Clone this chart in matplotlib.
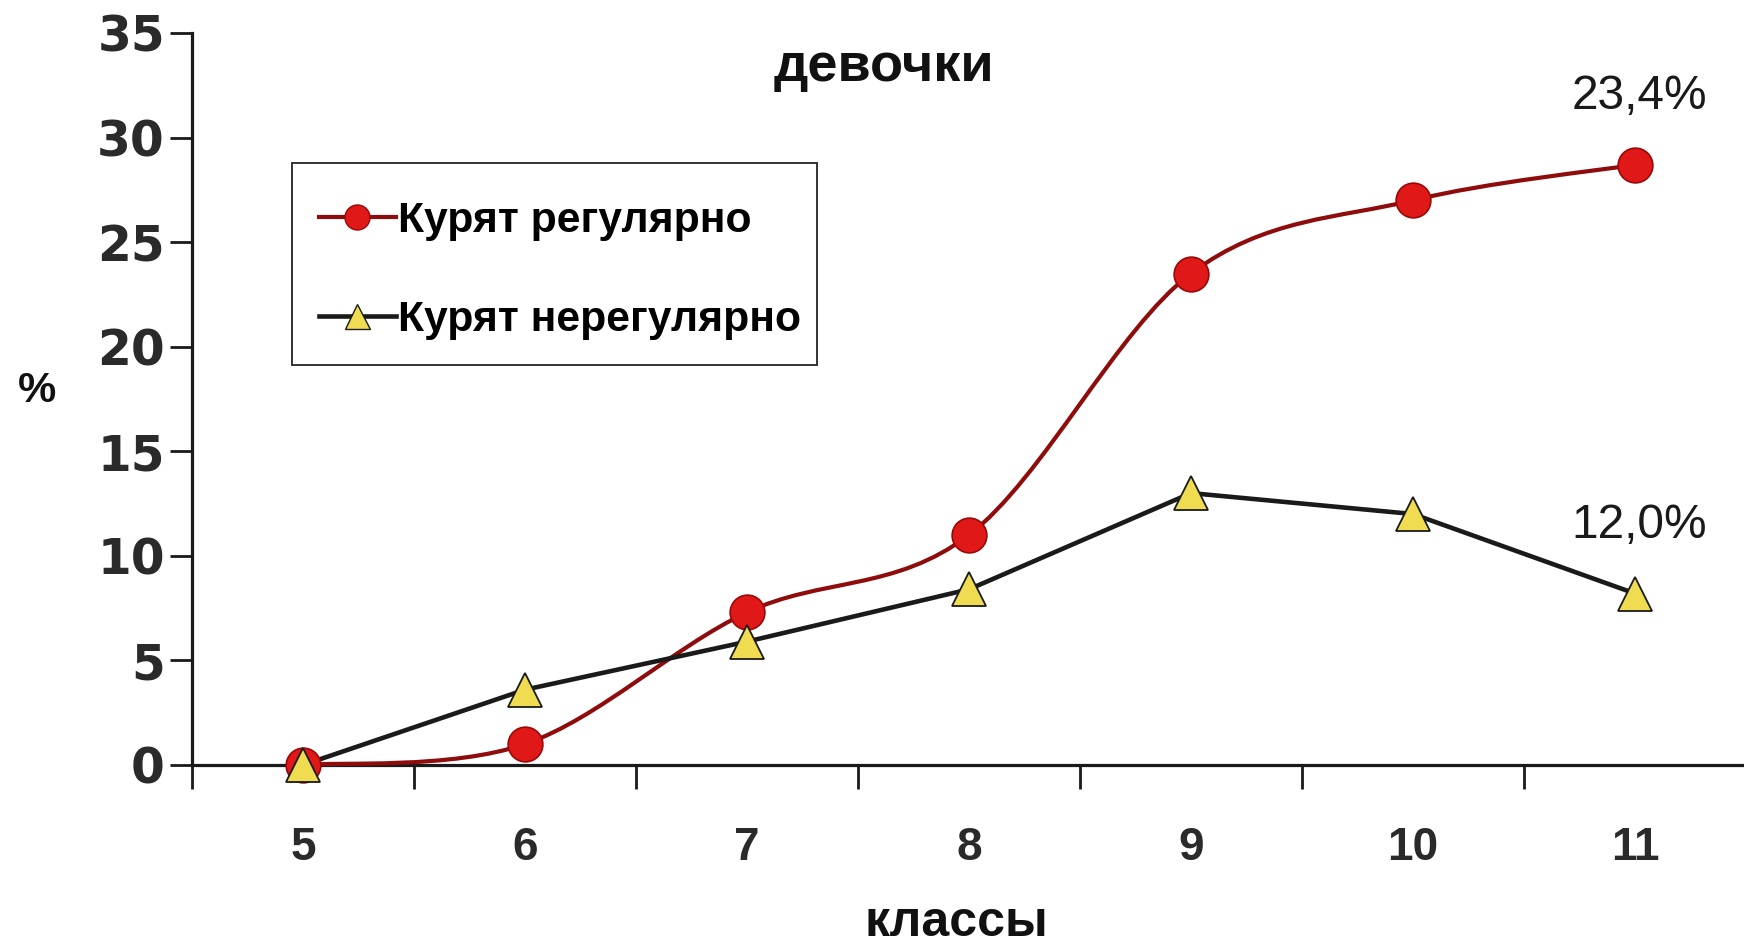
import matplotlib
matplotlib.use("Agg")
import matplotlib.pyplot as plt
from matplotlib.path import Path
from matplotlib.patches import PathPatch, Rectangle
from matplotlib.lines import Line2D
import numpy as np

# ---- data ----
classes = [5, 6, 7, 8, 9, 10, 11]
regular = [0.0, 1.0, 7.3, 11.0, 23.5, 27.0, 28.7]
irregular = [0.0, 3.6, 5.9, 8.4, 13.0, 12.0, 8.2]
series_names = ["Курят регулярно", "Курят нерегулярно"]
y_ticks = [0, 5, 10, 15, 20, 25, 30, 35]
title_text = "девочки"
x_label = "классы"
y_label = "%"
annotations = [("23,4%", 11, 31.95), ("12,0%", 11, 11.45)]

W, H, DPI = 1744, 943, 100
fig = plt.figure(figsize=(W / DPI, H / DPI), dpi=DPI)
fig.patch.set_facecolor("white")

ax_left, ax_right = 192 / W, 1746 / W
ax_bottom, ax_top = 1 - 765 / H, 1 - 33 / H
ax = fig.add_axes([ax_left, ax_bottom, ax_right - ax_left, ax_top - ax_bottom])
ax.set_xlim(4.5, 11.5)
ax.set_ylim(0, 35)

RED_LINE = "#8e0c0c"
RED_FILL = "#e01818"
RED_EDGE = "#9a0808"
YEL_FILL = "#f0dc50"
DARK = "#1a1a1a"

# smoothed line (Bezier / Catmull-Rom like Excel's "smoothed line")
pts = np.column_stack([classes, regular]).astype(float)
ext = np.vstack([pts[0], pts, pts[-1]])
verts = [tuple(pts[0])]
codes = [Path.MOVETO]
for i in range(len(pts) - 1):
    p0, p1, p2, p3 = ext[i], ext[i + 1], ext[i + 2], ext[i + 3]
    c1 = p1 + (p2 - p0) / 6.0
    c2 = p2 - (p3 - p1) / 6.0
    verts += [tuple(c1), tuple(c2), tuple(p2)]
    codes += [Path.CURVE4] * 3
ax.add_patch(PathPatch(Path(verts, codes), facecolor="none", edgecolor=RED_LINE,
                       lw=3.0, zorder=3, clip_on=False))

ax.plot(classes, irregular, color=DARK, lw=3.3, zorder=3, clip_on=False)

ax.plot(classes, regular, linestyle="none", marker="o", ms=25, mfc=RED_FILL,
        mec=RED_EDGE, mew=1.2, zorder=5, clip_on=False)
ax.plot(classes, irregular, linestyle="none", marker="^", ms=25, mfc=YEL_FILL,
        mec=DARK, mew=1.3, zorder=6, clip_on=False)

# axes styling
for s in ["top", "right"]:
    ax.spines[s].set_visible(False)
for s in ["left", "bottom"]:
    ax.spines[s].set_color(DARK)
    ax.spines[s].set_linewidth(2.3)

ax.set_yticks(y_ticks)
ax.set_yticklabels([str(v) for v in y_ticks], fontfamily="DejaVu Sans",
                   fontweight="bold", fontsize=35, color="#2a2a2a")
ax.tick_params(axis="y", direction="out", length=16, width=2.0, color=DARK, pad=3.5)

ax.set_xticks(classes)
ax.set_xticklabels([str(c) for c in classes], fontfamily="Liberation Sans",
                   fontweight="bold", fontsize=33, color="#2a2a2a")
ax.set_xticks(np.arange(4.5, 11.6, 1.0), minor=True)
ax.tick_params(axis="x", which="major", length=0, pad=44)
ax.tick_params(axis="x", which="minor", direction="out", length=17, width=2.0, color=DARK)

# texts
fig.text(884 / W, 1 - 67 / H, title_text, ha="center", va="center",
         fontfamily="Liberation Sans", fontweight="bold", fontsize=39, color="#111111")
fig.text(956 / W, 1 - 923 / H, x_label, ha="center", va="center",
         fontfamily="Liberation Sans", fontweight="bold", fontsize=36, color="#111111")
fig.text(37 / W, 1 - 391 / H, y_label, ha="center", va="center",
         fontfamily="Liberation Sans", fontweight="bold", fontsize=31, color="#111111")
for txt, xv, yv in annotations:
    ax.text(xv + 0.02, yv, txt, ha="center", va="center", fontfamily="Liberation Sans",
            fontsize=34.5, color="#1a1a1a")

# legend (frame drawn separately)
handles = [
    Line2D([], [], color=RED_LINE, lw=3.0, marker="o", ms=18, mfc=RED_FILL, mec=RED_EDGE),
    Line2D([], [], color=DARK, lw=3.3, marker="^", ms=18, mfc=YEL_FILL, mec=DARK),
]
leg = fig.legend(handles, series_names, loc="upper left",
                 bbox_to_anchor=(319 / W, 1 - 201 / H), bbox_transform=fig.transFigure,
                 frameon=False, borderaxespad=0, borderpad=0,
                 handlelength=1.8, handletextpad=0.05, labelspacing=1.38,
                 prop={"family": "Liberation Sans", "weight": "bold", "size": 30.7})
box_x0, box_y0, box_x1, box_y1 = 292, 163, 817, 365
fig.patches.append(Rectangle((box_x0 / W, 1 - box_y1 / H), (box_x1 - box_x0) / W,
                             (box_y1 - box_y0) / H, transform=fig.transFigure,
                             facecolor="none", edgecolor="#333333", lw=1.4, zorder=1))

fig.savefig("out.png", dpi=DPI, facecolor="white")
